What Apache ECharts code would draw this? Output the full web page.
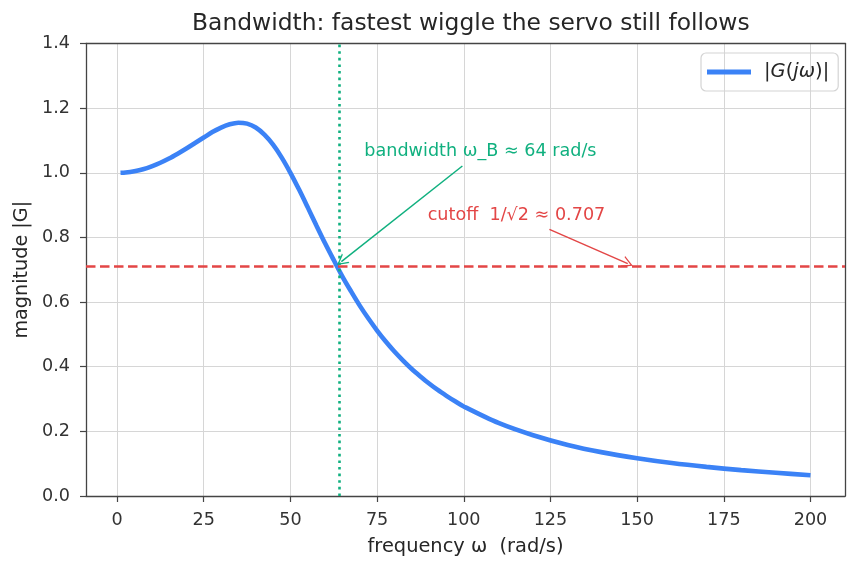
<!DOCTYPE html>
<html lang="en">
<head>
    <meta charset="UTF-8">
    <title>Bandwidth</title>
    <script src="https://cdn.jsdelivr.net/npm/echarts@6.0.0/dist/echarts.min.js"></script>
    <style>
        * { margin: 0; padding: 0; }
        #chart { width: 859px; height: 569px; background: #fff; }
    </style>
</head>
<body>
    <div id="chart"></div>
    <script>
        // values
        const omega = [1, 2.5, 5, 7.5, 10, 12.5, 15, 17.5, 20, 22.5, 25, 27.5, 30, 32.5, 35, 37.5, 40, 42.5,
                       45, 47.5, 50, 52.5, 55, 57.5, 60, 62.5, 65, 67.5, 70, 72.5, 75, 77.5, 80, 82.5,
                       85, 87.5, 90, 92.5, 95, 97.5, 100, 110, 120, 130, 140, 150, 160, 170, 180, 190, 200];
        const magnitude = [1.000, 1.001, 1.005, 1.011, 1.020, 1.031, 1.044, 1.059, 1.075, 1.092, 1.109, 1.126,
                           1.140, 1.150, 1.155, 1.152, 1.140, 1.118, 1.087, 1.047, 1.000, 0.948, 0.893, 0.837,
                           0.782, 0.730, 0.679, 0.633, 0.589, 0.549, 0.512, 0.478, 0.447, 0.419, 0.393, 0.370,
                           0.348, 0.328, 0.310, 0.293, 0.277, 0.226, 0.188, 0.158, 0.135, 0.117, 0.102, 0.090,
                           0.080, 0.072, 0.064];
        const xTicks = [0, 25, 50, 75, 100, 125, 150, 175, 200];
        const bandwidth = 64;
        const cutoff = 0.7071;
        const bwText = [104.8, 1.067];
        const bwArrow = [[99.6, 1.021], [64.7, 0.725]];
        const cutText = [115.2, 0.869];
        const cutArrow = [[124.7, 0.825], [147.3, 0.719]];

        const blue = '#3b82f6';
        const green = '#10b07f';
        const red = '#e34646';
        const ink = '#262626';
        const spine = '#444';
        const font = 'DejaVu Sans';
        const openArrow = 'path://M0,0 L6,11 L4.6,11 L0,2.6 L-4.6,11 L-6,11 Z';

        const chart = echarts.init(document.getElementById('chart'), null, { renderer: 'canvas' });

        const frameAxis = {
            type: 'value',
            axisLine: { show: true, onZero: false, lineStyle: { color: spine, width: 1.3 } },
            axisTick: { show: false },
            axisLabel: { show: false },
            splitLine: { show: false }
        };

        const option = {
            animation: false,
            textStyle: { fontFamily: font },
            title: {
                text: 'Bandwidth: fastest wiggle the servo still follows',
                left: 187,
                top: 7,
                textStyle: { fontFamily: font, fontSize: 23.4, fontWeight: 'normal', color: ink }
            },
            legend: {
                left: 701,
                top: 53,
                padding: [9, 9, 9, 6],
                borderColor: '#d4d4d4',
                borderWidth: 1.2,
                borderRadius: 5,
                itemWidth: 44,
                itemHeight: 5,
                data: [{ name: 'G', icon: 'rect' }],
                formatter: () => '{p|}|{i|G}({i|jω})|',
                textStyle: {
                    fontFamily: font, fontSize: 19.5, color: ink,
                    rich: {
                        p: { width: 8 },
                        i: { fontStyle: 'italic', fontFamily: font, fontSize: 19.5, color: ink }
                    }
                }
            },
            grid: { left: 86, right: 14, top: 43.5, bottom: 73 },
            xAxis: [
                {
                    type: 'value',
                    min: -8.95,
                    max: 209.95,
                    name: 'frequency ω  (rad/s)',
                    nameLocation: 'middle',
                    nameGap: 41,
                    nameTextStyle: { fontSize: 19.4, color: ink },
                    axisLine: { show: true, onZero: false, lineStyle: { color: spine, width: 1.3 } },
                    axisTick: { show: true, customValues: xTicks, length: 6, lineStyle: { color: spine, width: 1.2 } },
                    axisLabel: { customValues: xTicks, fontSize: 17.6, color: '#333', margin: 15 },
                    splitLine: { show: true, lineStyle: { color: '#d6d6d6', width: 1 } }
                },
                Object.assign({ position: 'top', min: -8.95, max: 209.95 }, frameAxis)
            ],
            yAxis: [
                {
                    type: 'value',
                    min: 0,
                    max: 1.4,
                    interval: 0.2,
                    name: 'magnitude |G|',
                    nameLocation: 'middle',
                    nameGap: 53,
                    nameTextStyle: { fontSize: 19.2, color: ink },
                    axisLine: { show: true, onZero: false, lineStyle: { color: spine, width: 1.3 } },
                    axisTick: { show: true, length: 6, lineStyle: { color: spine, width: 1.2 } },
                    axisLabel: { fontSize: 17.6, color: '#333', margin: 16, formatter: v => v.toFixed(1) },
                    splitLine: { show: true, lineStyle: { color: '#d6d6d6', width: 1 } }
                },
                Object.assign({ position: 'right', min: 0, max: 1.4 }, frameAxis)
            ],
            series: [
                {
                    name: 'G',
                    type: 'line',
                    smooth: 0.3,
                    symbol: 'none',
                    color: blue,
                    lineStyle: { width: 4.6, color: blue },
                    data: omega.map((w, i) => [w, magnitude[i]]),
                    z: 3
                },
                {
                    name: 'annotations',
                    type: 'line',
                    data: [],
                    z: 4,
                    markLine: {
                        silent: true,
                        animation: false,
                        symbol: ['none', 'none'],
                        label: { show: false },
                        data: [
                            { xAxis: bandwidth, lineStyle: { color: green, type: [2.6, 4], width: 2.6 } },
                            { yAxis: cutoff, lineStyle: { color: red, type: [9.5, 4.5], width: 2.6 } },
                            [
                                { coord: bwArrow[0], symbol: 'none', lineStyle: { color: green, type: 'solid', width: 1.5 } },
                                { coord: bwArrow[1], symbol: openArrow, symbolSize: [12, 11] }
                            ],
                            [
                                { coord: cutArrow[0], symbol: 'none', lineStyle: { color: red, type: 'solid', width: 1.5 } },
                                { coord: cutArrow[1], symbol: openArrow, symbolSize: [12, 11] }
                            ]
                        ]
                    },
                    markPoint: {
                        silent: true,
                        symbol: 'circle',
                        symbolSize: 0,
                        data: [
                            {
                                coord: bwText,
                                label: {
                                    show: true, position: 'inside',
                                    formatter: 'bandwidth ω_B ≈ 64 rad/s',
                                    color: green, fontSize: 17.6, fontFamily: font
                                }
                            },
                            {
                                coord: cutText,
                                label: {
                                    show: true, position: 'inside',
                                    formatter: 'cutoff  1/√2 ≈ 0.707',
                                    color: red, fontSize: 17.6, fontFamily: font
                                }
                            }
                        ]
                    }
                }
            ]
        };

        chart.setOption(option);
    </script>
</body>
</html>
